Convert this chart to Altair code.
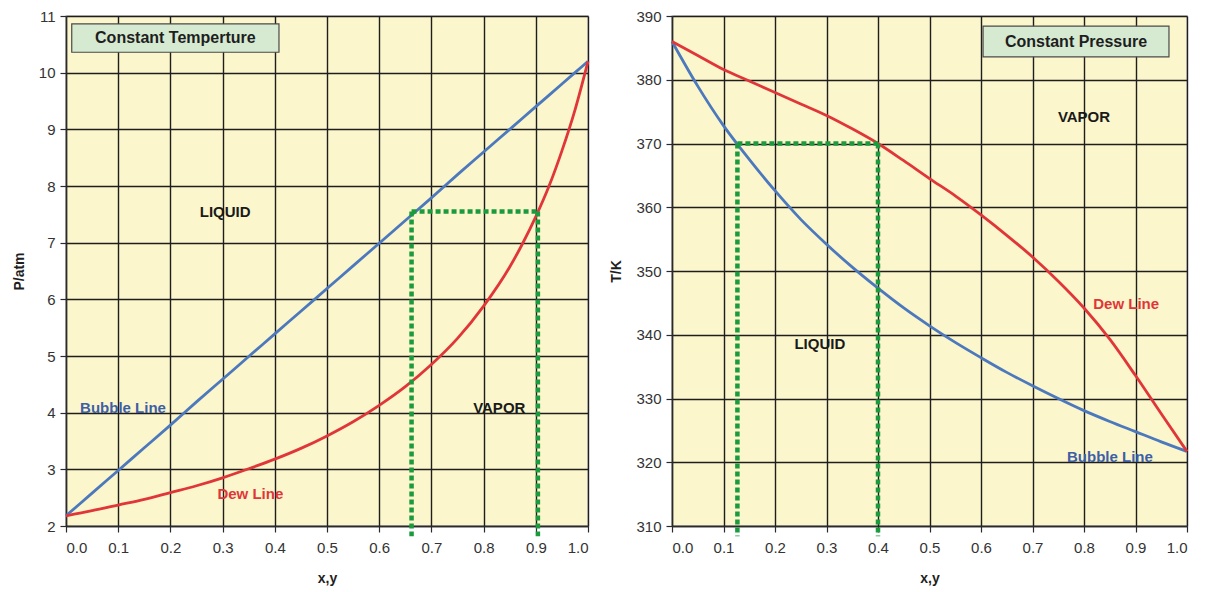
import altair as alt
import pandas as pd

# ---------------- Constant temperature: P (atm) against x, y ----------------
pt_x = [0.0, 0.05, 0.1, 0.15, 0.2, 0.25, 0.3, 0.35, 0.4, 0.45, 0.5,
        0.55, 0.6, 0.65, 0.7, 0.75, 0.8, 0.85, 0.875, 0.9, 0.925, 0.95, 0.975, 1.0]
pt_bubble = [2.18, 2.58, 2.98, 3.38, 3.78, 4.19, 4.59, 4.99, 5.39, 5.79, 6.19,
             6.59, 6.99, 7.39, 7.79, 8.20, 8.60, 9.00, 9.20, 9.40, 9.60, 9.80, 10.00, 10.20]
pt_dew = [2.18, 2.27, 2.37, 2.47, 2.59, 2.71, 2.85, 3.01, 3.18, 3.37, 3.59,
          3.84, 4.13, 4.46, 4.85, 5.31, 5.88, 6.57, 6.99, 7.46, 7.99, 8.62, 9.34, 10.20]
pt_tie_p = 7.55
pt_tie_x = [0.662, 0.904]

# ---------------- Constant pressure: T (K) against x, y ----------------
tp_x = [0.0, 0.05, 0.1, 0.15, 0.2, 0.25, 0.3, 0.35, 0.4, 0.45, 0.5,
        0.55, 0.6, 0.65, 0.7, 0.75, 0.8, 0.85, 0.9, 0.95, 1.0]
tp_bubble = [386.0, 379.0, 372.8, 367.5, 362.6, 358.1, 354.2, 350.6, 347.3, 344.2, 341.4,
             338.8, 336.4, 334.1, 332.0, 330.0, 328.1, 326.4, 324.8, 323.2, 321.7]
tp_dew = [386.0, 383.8, 381.6, 379.8, 378.0, 376.2, 374.4, 372.3, 370.0, 367.3, 364.5,
          361.8, 358.8, 355.6, 352.2, 348.4, 344.2, 339.3, 333.6, 327.6, 321.7]
tp_tie_t = 370.0
tp_tie_x = [0.127, 0.400]

BLUE = "#4C78BE"
RED = "#E0363A"
GREEN = "#1B9A3E"
BOX_FILL = "#D6EAD2"
FONT = "Liberation Sans"


def panel(xs, bubble, dew, tie_y, tie_x, y_floor, y_dom, y_ticks, y_title,
          width, labels, box, box_text):
    curves = pd.DataFrame({"x": xs, "bubble": bubble, "dew": dew})
    xs_scale = alt.Scale(domain=[0, 1], nice=False, zero=False)
    ys_scale = alt.Scale(domain=y_dom, nice=False, zero=False)
    x_axis = alt.Axis(values=[round(i * 0.1, 1) for i in range(11)], format=".1f",
                      title="x,y", grid=True)
    y_axis = alt.Axis(values=y_ticks, format="d", title=y_title, grid=True)

    base = alt.Chart(curves)
    bub = base.mark_line(color=BLUE, strokeWidth=2.8, interpolate="monotone").encode(
        x=alt.X("x:Q", scale=xs_scale, axis=x_axis),
        y=alt.Y("bubble:Q", scale=ys_scale, axis=y_axis),
    )
    dw = base.mark_line(color=RED, strokeWidth=2.8, interpolate="monotone").encode(
        x="x:Q", y="dew:Q"
    )

    tie_h = alt.Chart(pd.DataFrame({"x": [tie_x[0]], "x2": [tie_x[1]], "y": [tie_y]})).mark_rule(
        color=GREEN, strokeWidth=4.5, strokeDash=[5, 3]
    ).encode(x="x:Q", x2="x2:Q", y="y:Q")
    tie_v = alt.Chart(pd.DataFrame({"x": tie_x, "y": [tie_y, tie_y],
                                    "y2": [y_floor, y_floor]})).mark_rule(
        color=GREEN, strokeWidth=4.5, strokeDash=[5, 3], clip=False
    ).encode(x="x:Q", y="y:Q", y2="y2:Q")

    lab = pd.DataFrame(labels, columns=["x", "y", "text", "color", "align"])
    texts = []
    for _, r in lab.iterrows():
        texts.append(
            alt.Chart(pd.DataFrame([r])).mark_text(
                font=FONT, fontSize=15, fontWeight="bold", color=r["color"],
                align=r["align"], baseline="middle"
            ).encode(x="x:Q", y="y:Q", text="text:N")
        )

    bx = pd.DataFrame({"x": [box[0]], "x2": [box[1]], "y": [box[2]], "y2": [box[3]],
                       "xc": [(box[0] + box[1]) / 2], "yc": [(box[2] + box[3]) / 2],
                       "text": [box_text]})
    box_rect = alt.Chart(bx).mark_rect(fill=BOX_FILL, stroke="#4A4A4A", strokeWidth=1.2).encode(
        x="x:Q", x2="x2:Q", y="y:Q", y2="y2:Q"
    )
    box_lab = alt.Chart(bx).mark_text(
        font=FONT, fontSize=16, fontWeight="bold", color="#1E1E1E", baseline="middle"
    ).encode(x="xc:Q", y="yc:Q", text="text:N")

    return alt.layer(bub, dw, tie_h, tie_v, *texts, box_rect, box_lab).properties(
        width=width, height=510
    )


left = panel(
    pt_x, pt_bubble, pt_dew, pt_tie_p, pt_tie_x, 1.82, [2, 11], list(range(2, 12)), "P/atm", 522,
    [
        (0.305, 7.54, "LIQUID", "#1A1A1A", "center"),
        (0.83, 4.08, "VAPOR", "#1A1A1A", "center"),
        (0.027, 4.08, "Bubble Line", "#3E5FA6", "left"),
        (0.29, 2.57, "Dew Line", RED, "left"),
    ],
    (0.011, 0.408, 10.36, 10.86), "Constant Temperture",
)

right = panel(
    tp_x, tp_bubble, tp_dew, tp_tie_t, tp_tie_x, 308.4, [310, 390], list(range(310, 391, 10)),
    "T/K", 515,
    [
        (0.287, 338.5, "LIQUID", "#1A1A1A", "center"),
        (0.80, 374.2, "VAPOR", "#1A1A1A", "center"),
        (0.818, 344.8, "Dew Line", RED, "left"),
        (0.767, 320.8, "Bubble Line", "#3E5FA6", "left"),
    ],
    (0.604, 0.965, 383.6, 388.4), "Constant Pressure",
)

chart = alt.hconcat(left, right, spacing=84, bounds="flush").properties(
    padding={"left": 11, "top": 8, "right": 10, "bottom": 5},
    background="white",
).configure_view(
    fill="#FBF6CB", stroke="#C4C4C4", strokeWidth=1.5
).configure_axis(
    gridColor="#1E1E1E", gridWidth=1.4, gridOpacity=1,
    domainColor="#2A2A2A", domainWidth=1.4,
    tickColor="#2A2A2A", tickSize=6, tickWidth=1.2,
    labelFont=FONT, labelFontSize=15, labelColor="#333333",
    titleFont=FONT, titleFontSize=14, titleFontWeight="bold", titleColor="#1E1E1E",
).configure_axisX(
    labelPadding=8, titlePadding=16
).configure_axisY(
    labelPadding=5, titlePadding=12
)

chart.save("out.html", embed_options={"renderer": "svg", "actions": False})
